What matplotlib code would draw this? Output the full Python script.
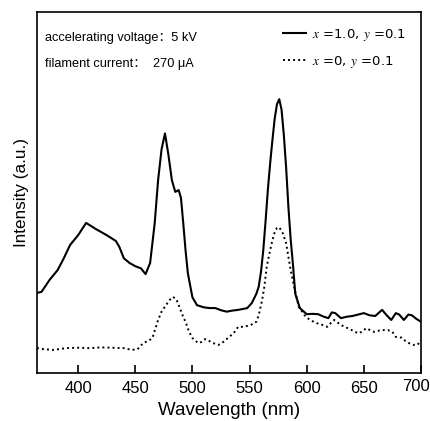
import matplotlib
matplotlib.use("Agg")
import matplotlib.pyplot as plt
import matplotlib.transforms as mtransforms

# solid line: x=1.0, y=0.1
wl_a = [364, 368, 375, 382, 387, 393, 400, 407, 415, 425, 433, 436, 440, 445, 450,
        455, 459, 463, 467, 470, 473, 476, 479, 482, 485, 488, 490, 492, 494,
        496, 500, 504, 510, 515, 520, 525, 530, 535, 540, 545, 548, 552, 556,
        558, 560, 562, 564, 566, 568, 570, 572, 574, 576, 578, 580, 582, 584,
        586, 588, 590, 594, 600, 605, 610, 615, 619, 622, 625, 630, 635, 640,
        645, 650, 655, 660, 666, 670, 674, 678, 681, 685, 689, 692, 696, 700]
int_a = [22.2, 22.5, 25.8, 28.5, 31.5, 35.5, 38.2, 41.6, 40.0, 38.2, 36.6, 35.0, 31.8,
         30.5, 29.6, 29.0, 27.4, 30.5, 41.5, 53.5, 62.0, 66.4, 60.5, 53.5, 50.2,
         50.7, 48.5, 41.5, 34.0, 27.7, 21.0, 18.8, 18.2, 18.0, 18.0, 17.4, 17.0,
         17.3, 17.5, 17.8, 18.0, 19.4, 22.0, 23.9, 28.0, 34.0, 42.0, 50.7, 58.0,
         64.5, 70.5, 74.5, 75.9, 73.0, 66.0, 57.0, 46.0, 37.0, 30.0, 22.0, 18.0,
         16.3, 16.4, 16.3, 15.6, 15.2, 16.8, 16.6, 15.2, 15.6, 15.8, 16.2, 16.6,
         16.0, 15.8, 17.5, 16.0, 14.7, 16.6, 16.2, 14.7, 16.2, 16.0, 15.0, 14.2]

# dotted line: x=0, y=0.1
wl_b = [364, 370, 378, 390, 400, 410, 420, 430, 440, 447, 452, 457, 462, 465,
        470, 473, 476, 480, 483, 486, 489, 492, 494, 497, 500, 505, 508, 511,
        514, 518, 523, 527, 531, 536, 540, 545, 551, 556, 558, 561, 563, 565,
        568, 570, 572, 574, 576, 579, 582, 584, 586, 589, 593, 599, 604, 609,
        614, 618, 621, 624, 630, 636, 640, 645, 648, 652, 659, 665, 671, 675,
        678, 683, 687, 690, 693, 697, 700]
int_b = [6.9, 6.6, 6.4, 6.9, 7.0, 6.9, 7.1, 7.0, 6.9, 6.4, 6.6, 8.3, 9.0, 9.7,
         14.7, 17.0, 18.4, 20.2, 21.1, 20.4, 18.0, 15.5, 14.2, 11.5, 9.7, 8.3,
         8.6, 9.4, 9.0, 8.3, 7.8, 8.6, 9.7, 11.0, 12.8, 12.8, 13.3, 14.2, 16.0,
         20.2, 24.0, 29.4, 34.0, 36.8, 39.0, 40.2, 40.4, 38.8, 36.0, 32.2, 28.5,
         23.9, 18.4, 15.6, 14.5, 13.8, 13.3, 12.8, 13.8, 14.7, 13.3, 12.4, 11.8,
         11.0, 11.4, 12.4, 11.4, 11.9, 11.9, 11.4, 10.0, 9.8, 8.7, 8.2, 7.8, 7.8, 9.1]

x_ticks = [400, 450, 500, 550, 600, 650, 700]

plt.rcParams['mathtext.fontset'] = 'stix'
sans = ['Liberation Sans', 'Noto Sans CJK SC']

fig = plt.figure(figsize=(4.30, 4.21), dpi=100)
ax = fig.add_axes([0.086, 0.114, 0.893, 0.857])

ax.plot(wl_a, int_a, color='black', lw=1.5, label=r'$x$ =1.0, $y$ =0.1')
ax.plot(wl_b, int_b, color='black', lw=1.4, ls=(0, (1, 1.6)), label=r'$x$ =0, $y$ =0.1')

ax.set_xlim(364, 700)
ax.set_ylim(0, 100)
ax.set_xticks(x_ticks)
ax.set_yticks([])
ax.tick_params(axis='x', direction='in', length=6, width=1.2, labelsize=12, pad=6)
for lab in ax.get_xticklabels():
    lab.set_family(sans)
# last label sits a bit left and up, as in the original
last = ax.get_xticklabels()[-1]
last.set_transform(last.get_transform() +
                   mtransforms.ScaledTranslation(-5 / 100, 2 / 100, fig.dpi_scale_trans))
for sp in ax.spines.values():
    sp.set_linewidth(1.2)

ax.set_xlabel('Wavelength (nm)', fontsize=13.5, family=sans, labelpad=4)
ax.set_ylabel('Intensity (a.u.)', fontsize=12.3, family=sans, labelpad=6)

ax.text(0.022, 0.928, 'accelerating voltage：5 kV', transform=ax.transAxes,
        fontsize=9.2, family=sans, va='center')
ax.text(0.022, 0.856, 'filament current：  270 μA', transform=ax.transAxes,
        fontsize=9.2, family=sans, va='center')

leg = ax.legend(loc='upper right', frameon=False, fontsize=9.5, handlelength=1.7,
                handletextpad=0.5, labelspacing=0.85, borderaxespad=0.7)

fig.savefig('out.png', dpi=100)
